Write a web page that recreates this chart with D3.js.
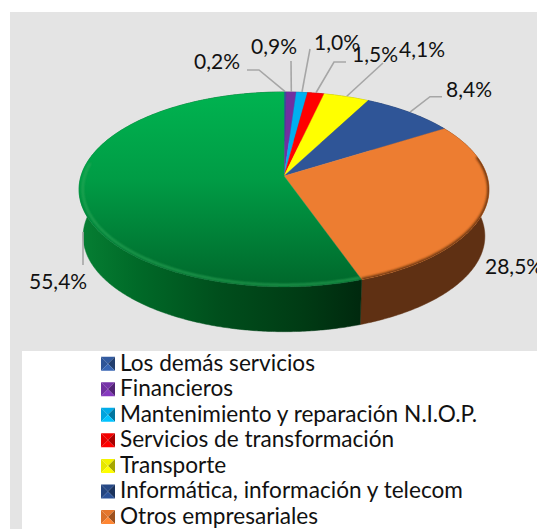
<!DOCTYPE html>
<html><head><meta charset="utf-8">
<script src="https://cdn.jsdelivr.net/npm/d3@7"></script>
<style>html,body{margin:0;padding:0;background:#fff;overflow:hidden}svg{display:block}text{font-family:Lato,"Open Sans",sans-serif;fill:#111}</style>
</head><body><svg id="c" width="537" height="529"></svg>
<script>
// data
const values = [0.2, 0.9, 1.0, 1.5, 4.1, 8.4, 28.5, 55.4];
const valueLabels = ["0,2%", "0,9%", "1,0%", "1,5%", "4,1%", "8,4%", "28,5%", "55,4%"];
const legendNames = ["Los demás servicios", "Financieros", "Mantenimiento y reparación N.I.O.P.", "Servicios de transformación", "Transporte", "Informática, información y telecom", "Otros empresariales"];
const colors = ["#2F5597", "#7030A0", "#00B0F0", "#FF0000", "#FFFF00", "#2F5597", "#ED7D31", "#00B050"];
const legendColors = ["#2F5597", "#7030A0", "#00A3DD", "#E60000", "#E6E600", "#24457F", "#D9702A"];

// layout
const cx = 284, cy = 176, R = 203, H = 95.6, k = 0.138, depth = 47, baseScale = 0.98;
const labelLayout = [
  {x:194,y:69,elbow:[[247,70],[259,70]]},
  {x:251,y:54,elbow:[[291,61]]},
  {x:314,y:50,elbow:[[310,49]]},
  {x:352,y:62,elbow:[[346,62],[334,62]]},
  {x:399,y:57,elbow:[[383,63]]},
  {x:446,y:97,elbow:[[442,96.7],[430,96.7]]},
  {x:485,y:274,elbow:null},
  {x:29,y:289,elbow:[[83,265],[83,232]],anchorAt:[83,232]}
];

const svg = d3.select("#c");
const defs = svg.append("defs");
const pie = d3.pie().sort(null).value(d=>d).startAngle(0).endAngle(2*Math.PI);
const arcs = pie(values);

function proj(a, s=1, dy=0){
  const u=Math.sin(a), v=Math.cos(a), w=1+k*v;
  return [cx+s*R*u/w, cy+dy-s*H*v/w];
}
const arcPts=(a0,a1,s=1,dy=0)=>{
  const n=Math.max(2,Math.ceil((a1-a0)/0.01));
  return d3.range(n+1).map(i=>proj(a0+(a1-a0)*i/n,s,dy));
};
const line=d3.line();

// gradients & filters
const gGreen=defs.append("linearGradient").attr("id","gt").attr("gradientUnits","userSpaceOnUse").attr("x1",0).attr("x2",0).attr("y1",92).attr("y2",287);
gGreen.append("stop").attr("offset",0).attr("stop-color","#00B350");
gGreen.append("stop").attr("offset",.45).attr("stop-color","#009C45");
gGreen.append("stop").attr("offset",1).attr("stop-color","#00672B");
const gSide=defs.append("linearGradient").attr("id","gs").attr("gradientUnits","userSpaceOnUse").attr("x1",80).attr("x2",360).attr("y1",0).attr("y2",0);
[[0,"#067F33"],[.2,"#006A28"],[.5,"#004E1C"],[.8,"#003B14"],[1,"#00290E"]].forEach(s=>gSide.append("stop").attr("offset",s[0]).attr("stop-color",s[1]));
const bl=(id,d)=>defs.append("filter").attr("id",id).attr("x","-10%").attr("y","-10%").attr("width","120%").attr("height","120%").append("feGaussianBlur").attr("stdDeviation",d);
bl("b1",1.2); bl("b2",1.3);
defs.append("clipPath").attr("id","topClip").append("path").attr("d",line(arcPts(0,2*Math.PI))+"Z");

// backgrounds
svg.append("rect").attr("x",10).attr("y",12).attr("width",527).attr("height",517).attr("fill","#E4E4E4");
svg.append("rect").attr("x",22).attr("y",351).attr("width",515).attr("height",178).attr("fill","#fff");

// side wall
const sideFill=i=>i===7?"url(#gs)":i===6?"#5F3013":d3.color(colors[i]).darker(1.5);
svg.append("g").selectAll("path").data(arcs).join("path")
  .attr("d",d=>line([...arcPts(d.startAngle,d.endAngle),...arcPts(d.startAngle,d.endAngle,baseScale,depth).reverse()])+"Z")
  .attr("fill",(d,i)=>sideFill(i)).attr("stroke",(d,i)=>sideFill(i)).attr("stroke-width",.5);

// leader lines
const gl=svg.append("g").attr("fill","none").attr("stroke","#A6A6A6").attr("stroke-width",1.6);
arcs.forEach((d,i)=>{
  const L=labelLayout[i]; if(!L.elbow) return;
  const mid=(d.startAngle+d.endAngle)/2;
  const pts= L.anchorAt ? L.elbow : [...L.elbow,proj(mid,1.005)];
  gl.append("path").attr("d",line(pts));
});

// top face
const topG=svg.append("g");
topG.selectAll("path").data(arcs).join("path")
  .attr("d",d=>line([[cx,cy],...arcPts(d.startAngle,d.endAngle)])+"Z")
  .attr("fill",(d,i)=>i===7?"url(#gt)":colors[i])
  .attr("stroke",(d,i)=>i===7?"url(#gt)":colors[i]).attr("stroke-width",.4);

// bevel rims
const rim=svg.append("g").attr("clip-path","url(#topClip)").attr("fill","none");
const a6=arcs[6], a7=arcs[7];
rim.append("path").attr("d",line(arcPts(a6.startAngle+.35,a6.endAngle,1)))
  .attr("stroke","#6B3510").attr("stroke-width",3.5).attr("filter","url(#b2)");
rim.append("path").attr("d",line(arcPts(a7.startAngle,a7.startAngle+2.05,.982)))
  .attr("stroke","#2FA95A").attr("stroke-width",2).attr("filter","url(#b1)").attr("opacity",.8);

// value labels
svg.append("g").selectAll("text").data(valueLabels).join("text")
  .attr("x",(d,i)=>labelLayout[i].x).attr("y",(d,i)=>labelLayout[i].y)
  .attr("font-size",21).text(d=>d);

// legend
const rowY=d3.scalePoint().domain(legendNames).range([370.7,524]);
const leg=svg.append("g").selectAll("g").data(legendNames).join("g")
  .attr("transform",d=>`translate(101,${rowY(d)-14})`);
const s=14,c=7;
const facets=[
  {p:[[0,0],[s,0],[c,c]],f:b=>d3.color(b).brighter(.15)},
  {p:[[0,0],[0,s],[c,c]],f:b=>b},
  {p:[[s,0],[s,s],[c,c]],f:b=>d3.color(b).darker(.9)},
  {p:[[0,s],[s,s],[c,c]],f:b=>d3.color(b).brighter(.5)}
];
leg.each(function(d,i){
  const g=d3.select(this);
  facets.forEach(fc=>g.append("path").attr("d",line(fc.p)+"Z").attr("fill",fc.f(legendColors[i])));
  g.append("text").attr("x",19).attr("y",14).attr("font-size",22.6).text(d);
});
</script></body></html>
